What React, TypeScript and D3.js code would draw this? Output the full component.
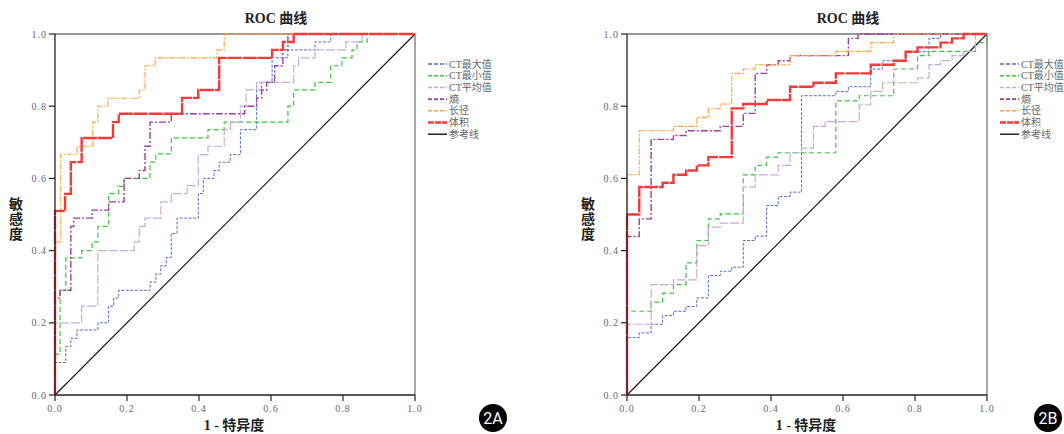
import * as d3 from 'd3';

type Pt = [number, number];

const ticks = [0, 0.2, 0.4, 0.6, 0.8, 1.0];
const seriesNames = ['CT最大值', 'CT最小值', 'CT平均值', '熵', '长径', '体积', '参考线'];

// panel 2A
const maxA: Pt[] = [[0,0],[0,0.09],[0.03,0.134],[0.044,0.157],[0.061,0.18],[0.119,0.2],[0.149,0.246],[0.163,0.269],[0.177,0.29],[0.264,0.313],[0.28,0.335],[0.294,0.358],[0.309,0.381],[0.323,0.447],[0.339,0.49],[0.398,0.558],[0.412,0.6],[0.442,0.622],[0.456,0.645],[0.487,0.666],[0.515,0.735],[0.56,0.845],[0.574,0.866],[0.603,0.934],[0.647,0.956],[0.722,0.978],[0.766,1],[1,1]];
const minA: Pt[] = [[0,0],[0,0.113],[0.014,0.29],[0.03,0.38],[0.074,0.4],[0.103,0.424],[0.119,0.467],[0.149,0.558],[0.177,0.578],[0.192,0.6],[0.264,0.645],[0.28,0.668],[0.323,0.712],[0.425,0.735],[0.47,0.756],[0.647,0.8],[0.663,0.845],[0.722,0.866],[0.766,0.912],[0.797,0.934],[0.825,0.956],[0.839,0.978],[0.867,1],[1,1]];
const meanA: Pt[] = [[0,0],[0,0.2],[0.074,0.246],[0.119,0.4],[0.22,0.424],[0.234,0.467],[0.25,0.49],[0.294,0.535],[0.323,0.558],[0.367,0.58],[0.398,0.666],[0.425,0.689],[0.47,0.735],[0.487,0.756],[0.515,0.8],[0.531,0.845],[0.56,0.866],[0.663,0.912],[0.677,0.934],[0.722,0.956],[0.808,0.978],[0.853,1],[1,1]];
const entA: Pt[] = [[0,0],[0,0.269],[0.014,0.29],[0.044,0.467],[0.052,0.49],[0.103,0.512],[0.149,0.535],[0.192,0.6],[0.234,0.622],[0.25,0.689],[0.264,0.756],[0.323,0.779],[0.527,0.8],[0.56,0.823],[0.574,0.845],[0.588,0.866],[0.61,0.912],[0.633,0.956],[0.647,1],[1,1]];
const lenA: Pt[] = [[0,0],[0,0.424],[0.016,0.667],[0.061,0.689],[0.105,0.756],[0.119,0.8],[0.147,0.822],[0.234,0.845],[0.25,0.912],[0.278,0.934],[0.45,0.956],[0.47,1],[1,1]];
const volA: Pt[] = [[0,0],[0,0.51],[0.028,0.557],[0.044,0.645],[0.074,0.712],[0.161,0.756],[0.177,0.779],[0.353,0.823],[0.398,0.845],[0.456,0.934],[0.603,0.956],[0.633,0.978],[0.663,1],[1,1]];

// panel 2B
const maxB: Pt[] = [[0,0],[0,0.159],[0.034,0.172],[0.067,0.196],[0.099,0.22],[0.129,0.232],[0.164,0.245],[0.194,0.269],[0.226,0.331],[0.259,0.343],[0.291,0.354],[0.323,0.428],[0.356,0.44],[0.388,0.525],[0.42,0.55],[0.453,0.562],[0.485,0.829],[0.58,0.841],[0.615,0.854],[0.677,0.903],[0.71,0.926],[0.774,0.951],[0.839,0.988],[0.871,1],[1,1]];
const minB: Pt[] = [[0,0],[0,0.232],[0.067,0.257],[0.099,0.282],[0.129,0.306],[0.164,0.366],[0.194,0.428],[0.226,0.488],[0.259,0.502],[0.323,0.61],[0.356,0.636],[0.388,0.659],[0.42,0.671],[0.58,0.815],[0.645,0.829],[0.741,0.903],[0.807,0.94],[0.839,0.952],[0.968,0.976],[1,1]];
const meanB: Pt[] = [[0,0],[0,0.196],[0.067,0.306],[0.129,0.319],[0.194,0.414],[0.226,0.465],[0.259,0.476],[0.323,0.576],[0.356,0.61],[0.42,0.636],[0.453,0.671],[0.485,0.684],[0.518,0.744],[0.55,0.757],[0.645,0.804],[0.677,0.841],[0.71,0.865],[0.807,0.878],[0.839,0.915],[0.871,0.926],[0.903,0.94],[0.935,0.952],[0.968,1],[1,1]];
const entB: Pt[] = [[0,0],[0,0.439],[0.034,0.488],[0.067,0.708],[0.129,0.719],[0.164,0.732],[0.259,0.744],[0.323,0.78],[0.356,0.891],[0.388,0.915],[0.42,0.926],[0.453,0.94],[0.615,0.988],[0.642,1],[1,1]];
const lenB: Pt[] = [[0,0],[0,0.61],[0.034,0.732],[0.129,0.744],[0.194,0.769],[0.226,0.793],[0.259,0.806],[0.291,0.891],[0.323,0.903],[0.356,0.915],[0.453,0.94],[0.58,0.952],[0.677,0.976],[0.741,1],[1,1]];
const volB: Pt[] = [[0,0],[0,0.5],[0.034,0.576],[0.099,0.588],[0.129,0.61],[0.164,0.622],[0.194,0.636],[0.226,0.659],[0.291,0.794],[0.323,0.806],[0.388,0.817],[0.453,0.854],[0.518,0.865],[0.58,0.891],[0.677,0.915],[0.741,0.926],[0.774,0.951],[0.807,0.963],[0.871,0.976],[0.903,0.988],[0.935,1],[1,1]];
const refLine: Pt[] = [[0,0],[1,1]];

const styles = [
  { color: '#4f6fc9', width: 1, dash: '3,1.5' },
  { color: '#3ec43e', width: 1.2, dash: '5,3' },
  { color: '#c9a9dd', width: 1.2, dash: '9,2' },
  { color: '#9a3f9a', width: 1.4, dash: '7,2,2,2' },
  { color: '#ffa23c', width: 1.1, dash: '6,1.5,2,1.5' },
  { color: '#f23a3a', width: 2.4, dash: '14,1' },
  { color: '#111111', width: 1.1, dash: '' },
];

const serif = '"Liberation Serif", "DejaVu Serif", serif';
const cjk = '"Liberation Serif", "Noto Sans CJK SC", serif';

function Panel({ left, series, badge, badgeX }: { left: number; series: Pt[][]; badge: string; badgeX: number }) {
  const top = 34, w = 360, h = 361;
  const x = d3.scaleLinear().domain([0, 1]).range([left, left + w]);
  const y = d3.scaleLinear().domain([0, 1]).range([top + h, top]);
  const step = d3.line<Pt>().x(d => x(d[0])).y(d => y(d[1])).curve(d3.curveStepAfter);
  const straight = d3.line<Pt>().x(d => x(d[0])).y(d => y(d[1]));
  return (
    <g>
      <text x={left + 221} y={23} textAnchor="middle" fontFamily={cjk} fontWeight="bold" fontSize={14} fill="#222">ROC 曲线</text>
      <line x1={x(0)} x2={x(1)} y1={y(1)} y2={y(1)} stroke="#333" strokeWidth={1.2} />
      <line x1={x(1)} x2={x(1)} y1={y(0)} y2={y(1)} stroke="#888" strokeWidth={1.5} />
      {ticks.map(t => (
        <g key={'y' + t}>
          <line x1={x(0) - 6} x2={x(0)} y1={y(t)} y2={y(t)} stroke="#222" strokeWidth={1.2} />
          <text x={x(0) - 8} y={y(t) + 3.5} textAnchor="end" fontFamily={serif} fontSize={10} fill="#666" letterSpacing={1}>{t.toFixed(1)}</text>
          <line x1={x(t)} x2={x(t)} y1={y(0)} y2={y(0) + 6} stroke="#222" strokeWidth={1.2} />
          <text x={x(t)} y={y(0) + 17} textAnchor="middle" fontFamily={serif} fontSize={10} fill="#666" letterSpacing={1}>{t.toFixed(1)}</text>
        </g>
      ))}
      <path d={straight(refLine) || ''} fill="none" stroke={styles[6].color} strokeWidth={styles[6].width} />
      {series.map((s, i) => (
        <path key={i} d={step(s) || ''} fill="none" stroke={styles[i].color} strokeWidth={styles[i].width} strokeDasharray={styles[i].dash} />
      ))}
      <line x1={x(0)} x2={x(0)} y1={y(0)} y2={y(1)} stroke="#222" strokeWidth={1.3} />
      <line x1={x(0)} x2={x(1)} y1={y(0)} y2={y(0)} stroke="#222" strokeWidth={1.3} />
      <text x={left - 39} y={top + h / 2} textAnchor="middle" fontFamily={cjk} fontWeight="bold" fontSize={14} fill="#222">
        {'敏感度'.split('').map((c, i) => (
          <tspan key={i} x={left - 39} dy={i === 0 ? -6 : 15}>{c}</tspan>
        ))}
      </text>
      <text x={left + 179} y={430} textAnchor="middle" fontFamily={cjk} fontWeight="bold" fontSize={14} fill="#222">1 - 特异度</text>
      {seriesNames.map((n, i) => (
        <g key={n}>
          <line x1={left + 373} x2={left + 392} y1={64 + i * 11.7} y2={64 + i * 11.7} stroke={styles[i].color} strokeWidth={Math.min(styles[i].width + 0.3, 2.4)} strokeDasharray={i === 6 ? '' : i === 5 ? '6,1' : '4,2'} />
          <text x={left + 394} y={64 + i * 11.7 + 3.5} fontFamily={cjk} fontSize={10} fill="#666">{n}</text>
        </g>
      ))}
      <circle cx={badgeX} cy={418} r={14} fill="#000" />
      <text x={badgeX} y={424} textAnchor="middle" fontFamily="Roboto, sans-serif" fontSize={16} fill="#fff">{badge}</text>
    </g>
  );
}

export default function App() {
  return (
    <svg width={1064} height={434} style={{ display: 'block', position: 'absolute', left: 0, top: 0, background: '#fff' }}>
      <rect width={1064} height={434} fill="#fff" />
      <Panel left={55} series={[maxA, minA, meanA, entA, lenA, volA]} badge="2A" badgeX={493} />
      <Panel left={627} series={[maxB, minB, meanB, entB, lenB, volB]} badge="2B" badgeX={1048} />
    </svg>
  );
}
